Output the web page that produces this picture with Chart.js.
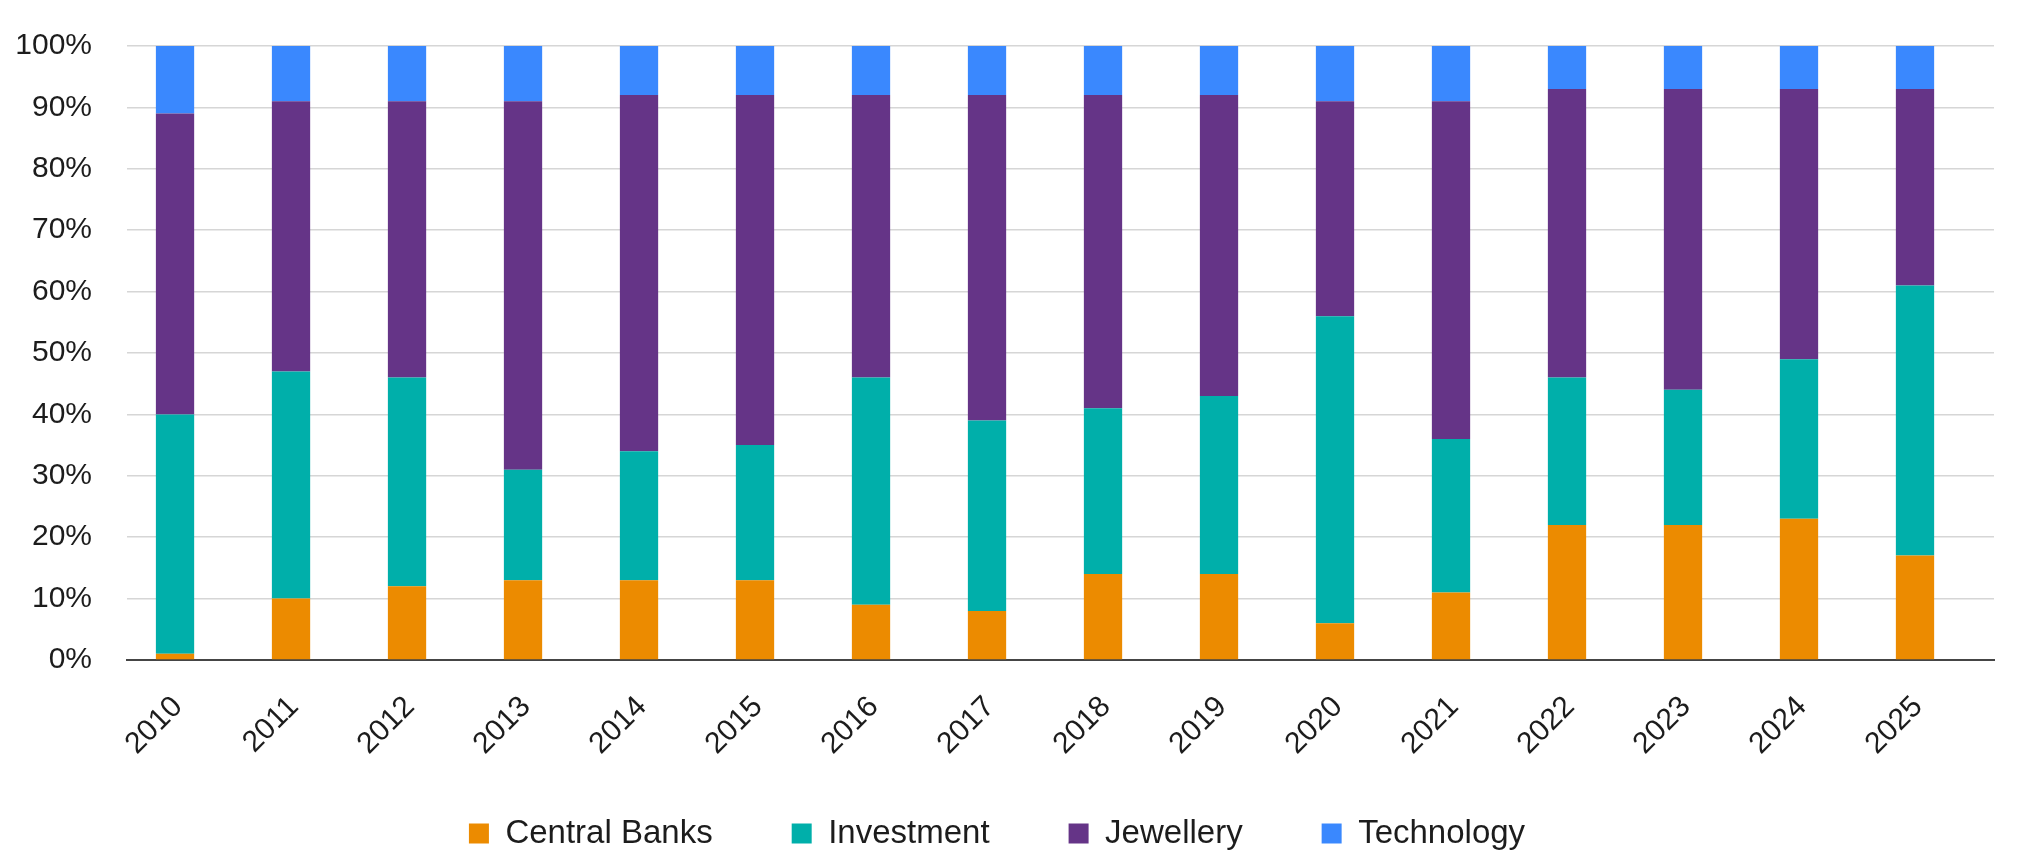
<!DOCTYPE html>
<html>
<head>
<meta charset="utf-8">
<script src="https://cdn.jsdelivr.net/npm/chart.js@4/dist/chart.umd.min.js"></script>
<style>
  html, body { margin: 0; padding: 0; background: #fff; }
</style>
</head>
<body>
<canvas id="goldChart" width="2027" height="863"></canvas>
<script>
// share of gold demand by sector, % of total
const years = [2010, 2011, 2012, 2013, 2014, 2015, 2016, 2017, 2018, 2019, 2020, 2021, 2022, 2023, 2024, 2025];
const centralBanks = [1, 10, 12, 13, 13, 13, 9, 8, 14, 14, 6, 11, 22, 22, 23, 17];
const investment   = [39, 37, 34, 18, 21, 22, 37, 31, 27, 29, 50, 25, 24, 22, 26, 44];
const jewellery    = [49, 44, 45, 60, 58, 57, 46, 53, 51, 49, 35, 55, 47, 49, 44, 32];
const technology   = [11, 9, 9, 9, 8, 8, 8, 8, 8, 8, 9, 9, 7, 7, 7, 7];
const yTicks = [0, 10, 20, 30, 40, 50, 60, 70, 80, 90, 100];

const fontFamily = '"Liberation Sans", Arial, sans-serif';
const textColor = '#1c1c1c';

function makeSet(label, values, color){
    return {
        label: label,
        data: values,
        backgroundColor: color,
        borderWidth: 0,
        categoryPercentage: 1,
        barPercentage: 0.33,
    };
}

const data = {
    labels: years,
    datasets: [
        makeSet('Central Banks', centralBanks, '#ec8b00'),
        makeSet('Investment', investment, '#00afaa'),
        makeSet('Jewellery', jewellery, '#653487'),
        makeSet('Technology', technology, '#3a88fe'),
    ],
};

// year labels under the bars, turned 45 degrees
const yearLabels = {
    id: 'yearLabels',
    afterDraw(chart) {
        const { ctx, scales: { x }, chartArea: { bottom } } = chart;
        ctx.save();
        ctx.font = '30px ' + fontFamily;
        ctx.fillStyle = textColor;
        ctx.textAlign = 'right';
        ctx.textBaseline = 'middle';
        years.forEach((year) => {
            ctx.save();
            ctx.translate(x.getPixelForValue(year) + 3, bottom + 42);
            ctx.rotate(-Math.PI / 4);
            ctx.fillText(String(year), 0, 0);
            ctx.restore();
        });
        ctx.restore();
    }
};

const options = {
    responsive: false,
    animation: false,
    layout: {
        padding: { top: 46, right: 33, bottom: 3, left: 0 }
    },
    plugins: {
        tooltip: { enabled: false },
        legend: {
            position: 'bottom',
            labels: {
                boxWidth: 20,
                boxHeight: 20,
                padding: 79,
                color: textColor,
                font: { family: fontFamily, size: 33 },
            },
        },
    },
    scales: {
        x: {
            type: 'linear',
            stacked: true,
            offset: false,
            min: 2009.586,
            max: 2025.681,
            afterFit: (scale) => { scale.height = 78; },
            grid: { display: false, drawTicks: false },
            border: { display: true, color: '#454545', width: 2 },
            ticks: {
                display: false,
                stepSize: 1,
                includeBounds: false,
            },
        },
        y: {
            stacked: true,
            min: 0,
            max: 100,
            afterFit: (scale) => {
                scale.width = 127;
                // the label gap should not push the plot down
                scale.paddingTop = 0;
                scale.paddingBottom = 0;
            },
            grid: { color: '#d6d6d6', lineWidth: 1.5, drawTicks: false },
            border: { display: false },
            ticks: {
                stepSize: 10,
                padding: 35,
                color: textColor,
                font: { family: fontFamily, size: 30 },
                callback: (value) => yTicks.includes(value) ? value + '%' : '',
            },
        },
    },
};

new Chart(document.getElementById('goldChart'), {
    type: 'bar',
    data: data,
    options: options,
    plugins: [yearLabels],
});
</script>
</body>
</html>
